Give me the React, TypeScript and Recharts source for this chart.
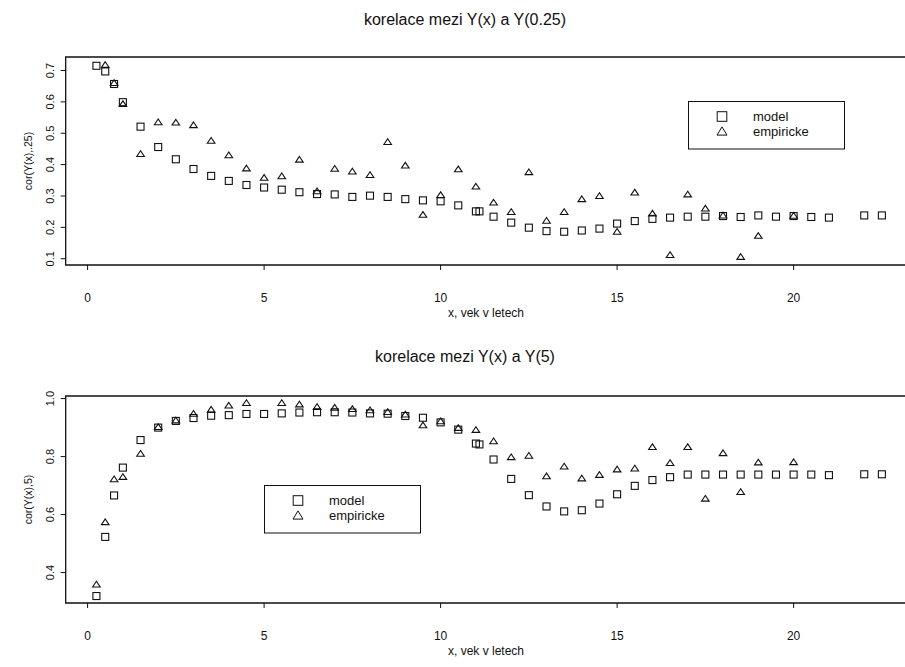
import React from 'react'
import { ScatterChart, Scatter, XAxis, YAxis, Legend, ReferenceArea } from 'recharts'

// vek (roky), ve kterych je spocitana modelova korelace
const modelAges = [
  0.25, 0.5, 0.75, 1, 1.5, 2, 2.5, 3, 3.5, 4, 4.5, 5, 5.5, 6, 6.5, 7, 7.5, 8, 8.5, 9, 9.5, 10, 10.5, 11,
  11.1, 11.5, 12, 12.5, 13, 13.5, 14, 14.5, 15, 15.5, 16, 16.5, 17, 17.5, 18, 18.5, 19, 19.5, 20, 20.5, 21, 22, 22.5,
]

// korelace s Y(0.25)
const topModel = [
  0.715, 0.697, 0.657, 0.599, 0.521, 0.456, 0.417, 0.386, 0.364, 0.348, 0.335, 0.327, 0.32, 0.312, 0.306, 0.305,
  0.297, 0.301, 0.297, 0.29, 0.286, 0.283, 0.27, 0.251, 0.251, 0.234, 0.215, 0.199, 0.188, 0.186, 0.19, 0.196,
  0.212, 0.22, 0.227, 0.231, 0.234, 0.234, 0.236, 0.233, 0.238, 0.234, 0.236, 0.233, 0.231, 0.238, 0.238,
]
const topEmpAges = [
  0.5, 0.75, 1, 1.5, 2, 2.5, 3, 3.5, 4, 4.5, 5, 5.5, 6, 6.5, 7, 7.5, 8, 8.5, 9, 9.5, 10, 10.5, 11, 11.5, 12,
  12.5, 13, 13.5, 14, 14.5, 15, 15.5, 16, 16.5, 17, 17.5, 18, 18.5, 19, 20,
]
const topEmp = [
  0.718, 0.66, 0.593, 0.434, 0.535, 0.534, 0.526, 0.476, 0.43, 0.388, 0.358, 0.363, 0.416, 0.315, 0.387, 0.378,
  0.367, 0.472, 0.397, 0.24, 0.303, 0.385, 0.33, 0.279, 0.249, 0.376, 0.221, 0.249, 0.29, 0.3, 0.186, 0.311,
  0.244, 0.112, 0.305, 0.26, 0.238, 0.106, 0.173, 0.237,
]

// korelace s Y(5)
const botModel = [
  0.319, 0.523, 0.666, 0.762, 0.857, 0.9, 0.923, 0.933, 0.941, 0.943, 0.947, 0.947, 0.949, 0.952, 0.953, 0.953,
  0.952, 0.949, 0.948, 0.94, 0.934, 0.918, 0.893, 0.845, 0.842, 0.79, 0.723, 0.667, 0.628, 0.611, 0.615, 0.638,
  0.67, 0.699, 0.719, 0.729, 0.738, 0.738, 0.738, 0.738, 0.738, 0.738, 0.738, 0.738, 0.736, 0.739, 0.739,
]
const botEmpAges = [
  0.25, 0.5, 0.75, 1, 1.5, 2, 2.5, 3, 3.5, 4, 4.5, 5.5, 6, 6.5, 7, 7.5, 8, 8.5, 9, 9.5, 10, 10.5, 11, 11.5, 12,
  12.5, 13, 13.5, 14, 14.5, 15, 15.5, 16, 16.5, 17, 17.5, 18, 18.5, 19, 20,
]
const botEmp = [
  0.359, 0.574, 0.722, 0.73, 0.81, 0.902, 0.925, 0.948, 0.962, 0.976, 0.985, 0.985, 0.98, 0.971, 0.969, 0.964,
  0.96, 0.954, 0.945, 0.908, 0.922, 0.899, 0.892, 0.853, 0.798, 0.803, 0.732, 0.766, 0.725, 0.737, 0.756, 0.759,
  0.833, 0.778, 0.833, 0.655, 0.812, 0.678, 0.78, 0.781,
]

const seriesNames = ['model', 'empiricke']
const xTicks = [0, 5, 10, 15, 20]
const topYTicks = [0.1, 0.2, 0.3, 0.4, 0.5, 0.6, 0.7]
const botYTicks = [0.4, 0.6, 0.8, 1.0]

const X_DOMAIN: [number, number] = [-0.62, 23.39]
const FONT = '"Liberation Sans", Arial, Helvetica, sans-serif'
const INK = '#111'
const PLOT_TOP = 57
const Y_AXIS_W = 65.7
const CHART_W = 920

const zip = (xs: number[], ys: number[]) => xs.map((x, i) => ({ x, y: ys[i] }))

const Square = (p: any) => (
  <rect x={p.cx - 3.5} y={p.cy - 3.5} width={7} height={7} fill="none" stroke={INK} strokeWidth={1.1} />
)
const Triangle = (p: any) => (
  <polygon
    points={`${p.cx},${p.cy - 3.2} ${p.cx - 3.8},${p.cy + 2.5} ${p.cx + 3.8},${p.cy + 2.5}`}
    fill="none"
    stroke={INK}
    strokeWidth={1.1}
  />
)

const XTick = (p: any) => (
  <text x={p.x} y={p.y + 31.8} textAnchor="middle" fontSize={12} fontFamily={FONT} fill={INK}>
    {p.payload.value}
  </text>
)

const YTick = (p: any) => {
  const cx = p.x - 10.7
  return (
    <text
      x={cx}
      y={p.y}
      dy="0.36em"
      textAnchor="middle"
      fontSize={11}
      fontFamily={FONT}
      fill={INK}
      transform={`rotate(-90 ${cx} ${p.y})`}
    >
      {Number(p.payload.value).toFixed(1)}
    </text>
  )
}

const LegendBox = ({ payload }: any) => {
  const names = seriesNames.filter((n) => !payload || payload.length === 0 || payload.some((p: any) => p.value === n))
  return (
    <svg width={157} height={49}>
      <rect x={0.5} y={0.5} width={156} height={47.5} fill="#fff" stroke={INK} strokeWidth={1} />
      {names.map((name, i) => {
        const cy = 15.5 + i * 15
        return (
          <g key={name}>
            {name === 'model' ? (
              <rect x={34 - 4.8} y={cy - 4.8} width={9.6} height={9.6} fill="none" stroke={INK} strokeWidth={1} />
            ) : (
              <polygon points={`34,${cy - 4.6} ${34 - 5},${cy + 3.6} ${34 + 5},${cy + 3.6}`} fill="none" stroke={INK} strokeWidth={1} />
            )}
            <text x={65} y={cy} dy="0.36em" fontSize={13} fontFamily={FONT} fill={INK}>
              {name}
            </text>
          </g>
        )
      })}
    </svg>
  )
}

interface PanelProps {
  top: number
  titleY: number
  title: string
  yLabel: string
  model: { x: number; y: number }[]
  emp: { x: number; y: number }[]
  yDomain: [number, number]
  yTicks: number[]
  plotH: number
  legendLeft: number
  legendTop: number
}

function Panel({ top, titleY, title, yLabel, model, emp, yDomain, yTicks, plotH, legendLeft, legendTop }: PanelProps) {
  const height = PLOT_TOP + plotH + 60
  const plotBottom = PLOT_TOP + plotH
  const yMid = PLOT_TOP + plotH / 2
  return (
    <div style={{ position: 'absolute', left: 0, top, width: CHART_W, height }}>
      <div
        style={{
          position: 'absolute',
          left: 0,
          width: 930,
          top: titleY - 9,
          lineHeight: '18px',
          textAlign: 'center',
          fontSize: 16,
          fontFamily: FONT,
          color: INK,
        }}
      >
        {title}
      </div>
      <ScatterChart width={CHART_W} height={height} margin={{ top: PLOT_TOP, right: CHART_W - 913.3, bottom: 0, left: 0 }}>
        <XAxis
          type="number"
          dataKey="x"
          domain={X_DOMAIN}
          ticks={xTicks}
          allowDataOverflow
          axisLine={false}
          tickLine={{ stroke: INK }}
          tickSize={5}
          tickMargin={0}
          height={60}
          tick={<XTick />}
          label={{
            value: 'x, vek v letech',
            content: () => (
              <text x={486} y={plotBottom + 47.5} dy="0.36em" textAnchor="middle" fontSize={12} fontFamily={FONT} fill={INK}>
                x, vek v letech
              </text>
            ),
          }}
        />
        <YAxis
          type="number"
          dataKey="y"
          domain={yDomain}
          ticks={yTicks}
          allowDataOverflow
          axisLine={false}
          tickLine={{ stroke: INK }}
          tickSize={5}
          tickMargin={0}
          width={Y_AXIS_W}
          tick={<YTick />}
          label={{
            value: yLabel,
            content: () => (
              <text
                x={28}
                y={yMid}
                dy="0.36em"
                textAnchor="middle"
                fontSize={10.5}
                fontFamily={FONT}
                fill={INK}
                transform={`rotate(-90 28 ${yMid})`}
              >
                {yLabel}
              </text>
            ),
          }}
        />
        <ReferenceArea
          x1={X_DOMAIN[0]}
          x2={X_DOMAIN[1]}
          y1={yDomain[0]}
          y2={yDomain[1]}
          fill="none"
          stroke={INK}
          strokeWidth={1.3}
          ifOverflow="visible"
        />
        <Scatter name="model" data={model} shape={Square} isAnimationActive={false} />
        <Scatter name="empiricke" data={emp} shape={Triangle} isAnimationActive={false} />
        <Legend
          layout="horizontal"
          verticalAlign="middle"
          align="center"
          wrapperStyle={{ left: legendLeft, top: legendTop, width: 157, height: 49 }}
          content={<LegendBox />}
        />
      </ScatterChart>
    </div>
  )
}

export default function App() {
  return (
    <div style={{ position: 'absolute', left: 0, top: 0, width: 905, height: 667, overflow: 'hidden', background: '#fff' }}>
      <Panel
        top={0}
        titleY={20}
        title="korelace mezi Y(x) a Y(0.25)"
        yLabel="cor(Y(x),.25)"
        model={zip(modelAges, topModel)}
        emp={zip(topEmpAges, topEmp)}
        yDomain={[0.08, 0.743]}
        yTicks={topYTicks}
        plotH={208}
        legendLeft={688}
        legendTop={101}
      />
      <Panel
        top={338.7}
        titleY={18.3}
        title="korelace mezi Y(x) a Y(5)"
        yLabel="cor(Y(x),5)"
        model={zip(modelAges, botModel)}
        emp={zip(botEmpAges, botEmp)}
        yDomain={[0.295, 1.009]}
        yTicks={botYTicks}
        plotH={207}
        legendLeft={264}
        legendTop={146.3}
      />
    </div>
  )
}
